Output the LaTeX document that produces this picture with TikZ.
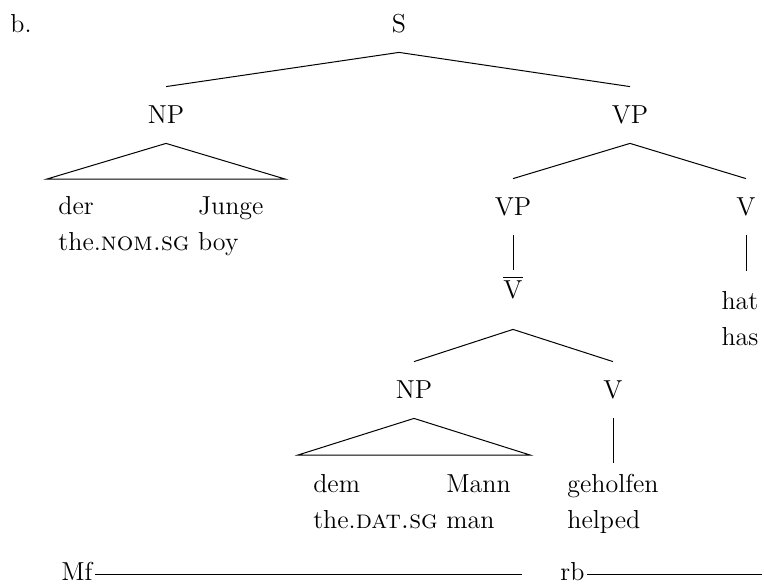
\documentclass[tikz,border=0pt]{standalone}
\usepackage{fontspec}
\begin{document}
\begin{tikzpicture}[x=0.5pt,y=-0.5pt,
  font=\fontsize{13}{18}\selectfont,
  cat/.style={anchor=base, inner xsep=0pt, inner ysep=10pt, text height=8pt, text depth=0pt},
  barcat/.style={cat, text height=4pt, text depth=5.5pt},
  leaf/.style={anchor=base, inner xsep=0pt, inner ysep=3pt, text height=9pt, text depth=0pt},
  free/.style={anchor=base west, inner sep=0pt},
  branch/.style={line width=0.5pt},
  field/.style={line width=0.5pt}]
\useasboundingbox (0,0) rectangle (764,584);

% example label
\node[free] (ex) at (10,32) {b.};

% categories
\node[cat] (s)    at (399,32)  {S};
\node[cat] (np1)  at (166,123) {NP};
\node[cat] (vp1)  at (630,123) {VP};
\node[cat] (vp2)  at (513,215) {VP};
\node[cat] (v1)   at (746,215) {V};
\node[barcat] (vbar) at (513,298) {$\overline{\mbox{V}}$};
\node[cat] (np2)  at (414,398) {NP};
\node[cat] (v2)   at (613,398) {V};

% leaves with glosses
\node[leaf] (g1) at (161,214)
  {\begin{tabular}[t]{@{}l@{\ }l@{}}der & Junge\\ the.\textsc{nom.sg} & boy\end{tabular}};
\node[leaf] (g2) at (412,492)
  {\begin{tabular}[t]{@{}l@{\ }l@{}}dem & Mann\\ the.\textsc{dat.sg} & man\end{tabular}};
\node[leaf, inner ysep=10pt] (hat) at (740,309)
  {\begin{tabular}[t]{@{}l@{}}hat\\ has\end{tabular}};
\node[leaf, inner ysep=5.5pt] (geh) at (613,492)
  {\begin{tabular}[t]{@{}l@{}}geholfen\\ helped\end{tabular}};

% branches
\draw[branch] (s.south) -- (np1.north);
\draw[branch] (s.south) -- (vp1.north);
\draw[branch] (vp1.south) -- (vp2.north);
\draw[branch] (vp1.south) -- (v1.north);
\draw[branch] (vp2.south) -- (vbar.north);
\draw[branch] (v1.south) -- (v1.south |- hat.north);
\draw[branch] (vbar.south) -- (np2.north);
\draw[branch] (vbar.south) -- (v2.north);
\draw[branch] (v2.south) -- (v2.south |- geh.north);

% roof triangles
\coordinate (t1l) at (47,179);
\coordinate (t1r) at (285,179);
\draw[branch] (t1l) -- (np1.south) -- (t1r) -- cycle;
\coordinate (t2l) at (298,455);
\coordinate (t2r) at (530,455);
\draw[branch] (t2l) -- (np2.south) -- (t2r) -- cycle;

% topological fields
\node[free] (mf) at (61,580) {Mf};
\node[free] (rb) at (560,580) {rb};
\coordinate (mfend) at (522,574);
\coordinate (rbend) at (762,574);
\draw[field] ([xshift=1pt]mf.base east |- mfend) -- (mfend);
\draw[field] ([xshift=1pt]rb.base east |- rbend) -- (rbend);
\end{tikzpicture}
\end{document}
